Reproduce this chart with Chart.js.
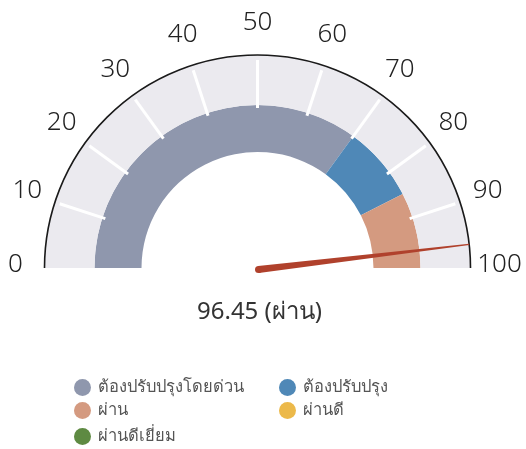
<!DOCTYPE html>
<html>
<head>
<meta charset="utf-8">
<script src="https://cdn.jsdelivr.net/npm/chart.js@4/dist/chart.umd.min.js"></script>
<style>
  html, body { margin: 0; padding: 0; background: #ffffff; }
  #wrap { position: relative; width: 526px; height: 449px; overflow: hidden; }
  #c { position: absolute; left: 0; top: 0; }
  #legend { position: absolute; left: 0; top: 0; width: 526px; height: 449px; pointer-events: none;
            font-family: "Noto Sans", "DejaVu Sans", sans-serif; font-size: 16.5px; font-weight: 400; color: #555; }
  .li { position: absolute; height: 20px; line-height: 20px; white-space: nowrap; }
  .dot { position: absolute; left: 0; top: 1px; width: 17px; height: 17px; border-radius: 50%; }
  .lt { position: absolute; left: 24px; top: -2px; }
</style>
</head>
<body>
<div id="wrap">
  <canvas id="c" width="526" height="449"></canvas>
  <div id="legend"></div>
</div>
<script>
// ---- data ----
const categories = ['ต้องปรับปรุงโดยด่วน', 'ต้องปรับปรุง', 'ผ่าน', 'ผ่านดี', 'ผ่านดีเยี่ยม'];
const bandValues = [70, 15, 15, 0, 0];
const bandColors = ['#8f97ad', '#4f88b7', '#d49a80', '#ecb94a', '#5e8a42'];
const scaleMax = 100;
const tickValues = [0, 10, 20, 30, 40, 50, 60, 70, 80, 90, 100];
const tickLabels = ['0', '10', '20', '30', '40', '50', '60', '70', '80', '90', '100'];
const gaugeValue = 96.45;
const valueLabel = '96.45 (ผ่าน)';

// ---- legend (HTML) ----
const legendPos = [[74, 378], [279, 378], [74, 401], [279, 401], [74, 427]];
const lg = document.getElementById('legend');
categories.forEach((name, i) => {
  const d = document.createElement('div');
  d.className = 'li';
  d.style.left = legendPos[i][0] + 'px';
  d.style.top = legendPos[i][1] + 'px';
  d.innerHTML = '<span class="dot" style="background:' + bandColors[i] + '"></span><span class="lt"></span>';
  d.querySelector('.lt').textContent = name;
  lg.appendChild(d);
});

// ---- gauge decorations plugin ----
const gaugePlugin = {
  id: 'gaugeDeco',
  afterDatasetsDraw(chart) {
    const ctx = chart.ctx;
    const bg = chart.getDatasetMeta(0).data[0];
    if (!bg) return;
    const cx = bg.x, cy = bg.y, R = bg.outerRadius;
    const s = bg.startAngle, e = bg.endAngle;
    const ang = v => s + (e - s) * v / scaleMax;
    ctx.save();
    // white tick marks
    ctx.strokeStyle = '#ffffff';
    ctx.lineWidth = 3;
    tickValues.forEach(v => {
      if (v <= 0 || v >= scaleMax) return;
      const a = ang(v);
      ctx.beginPath();
      ctx.moveTo(cx + 160 / 213 * R * Math.cos(a), cy + 160 / 213 * R * Math.sin(a));
      ctx.lineTo(cx + 208 / 213 * R * Math.cos(a), cy + 208 / 213 * R * Math.sin(a));
      ctx.stroke();
    });
    // outer arc line
    ctx.strokeStyle = '#1a1a1a';
    ctx.lineWidth = 1.6;
    ctx.beginPath();
    ctx.arc(cx, cy, R, s, e);
    ctx.stroke();
    // tick labels
    ctx.fillStyle = '#222222';
    ctx.font = '350 26px "Noto Sans", "DejaVu Sans", sans-serif';
    ctx.textAlign = 'center';
    ctx.textBaseline = 'middle';
    tickValues.forEach((v, i) => {
      const a = ang(v);
      const rl = R + 29;
      ctx.fillText(tickLabels[i], cx + rl * Math.cos(a), cy + rl * Math.sin(a) - 3);
    });
    // needle
    const a = ang(gaugeValue);
    const bx = cx + 1, by = cy + 1.5;
    const tipR = R;
    const tx = cx + tipR * Math.cos(a), ty = cy + tipR * Math.sin(a);
    const px = -Math.sin(a), py = Math.cos(a);
    ctx.fillStyle = '#b0412c';
    ctx.beginPath();
    ctx.moveTo(bx + px * 3.5, by + py * 3.5);
    ctx.lineTo(tx + px * 0.6, ty + py * 0.6);
    ctx.lineTo(tx - px * 0.6, ty - py * 0.6);
    ctx.lineTo(bx - px * 3.5, by - py * 3.5);
    ctx.closePath();
    ctx.fill();
    ctx.beginPath();
    ctx.arc(bx, by, 3.5, 0, Math.PI * 2);
    ctx.fill();
    // value label
    ctx.fillStyle = '#333333';
    ctx.font = '400 24px "Noto Sans", "DejaVu Sans", sans-serif';
    ctx.fillText(valueLabel, cx + 2, cy + 44);
    ctx.restore();
  }
};

new Chart(document.getElementById('c'), {
  type: 'doughnut',
  data: {
    labels: categories,
    datasets: [
      { label: 'scale', data: [scaleMax], backgroundColor: ['#ebeaef'], borderWidth: 0, weight: 50 },
      { label: 'bands', data: bandValues, backgroundColor: bandColors, borderWidth: 0, weight: 47 }
    ]
  },
  options: {
    responsive: false,
    animation: false,
    rotation: -90,
    circumference: 180,
    cutout: '54.46%',
    layout: { padding: { left: 44.5, right: 55.5, top: 55, bottom: 181 } },
    plugins: { legend: { display: false }, tooltip: { enabled: false } }
  },
  plugins: [gaugePlugin]
});
</script>
</body>
</html>
